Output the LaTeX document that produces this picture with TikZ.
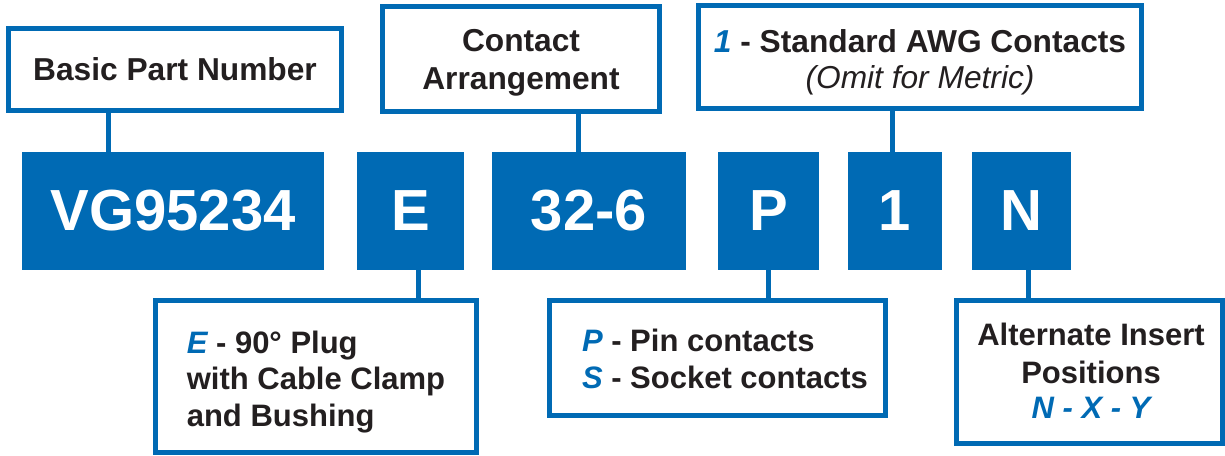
\documentclass[tikz,border=0pt]{standalone}
\usepackage{fontspec}
\setmainfont{Liberation Sans}
\definecolor{cblue}{RGB}{0,106,180}
\definecolor{ctext}{RGB}{35,31,32}
\begin{document}
\begin{tikzpicture}[x=1pt,y=-1pt,
  outlinebox/.style={draw=cblue, line width=5pt, fill=white, inner sep=0pt},
  bluebox/.style={fill=cblue, inner sep=0pt, minimum height=118pt, text=white,
    font=\fontsize{58}{60}\selectfont\bfseries},
  txt/.style={inner sep=0pt, text=ctext, font=\fontsize{31.7}{38}\selectfont\bfseries},
  hl/.style={text=cblue},
  link/.style={draw=cblue, line width=5pt}]
\useasboundingbox (0,0) rectangle (1225,455);

% top boxes
\node[outlinebox, minimum width=333pt, minimum height=82pt] (basic) at (175,69.5) {};
\node[txt] (basictext) at (175,69.5) {Basic Part Number};
\node[outlinebox, minimum width=277pt, minimum height=105pt] (contact) at (521,59) {};
\node[txt, align=center] (contacttext) at (521,63) {Contact\\Arrangement};
\node[outlinebox, minimum width=443pt, minimum height=103pt] (awg) at (920,57) {};
\node[txt, align=center, font=\fontsize{31.7}{36}\selectfont\bfseries] (awgtext) at (920,62)
  {{\color{cblue}\itshape 1} - Standard AWG Contacts\\{\mdseries\itshape (Omit for Metric)}};

% blue code boxes
\node[bluebox, minimum width=302pt] (vg) at (173,211) {VG95234};
\node[bluebox, minimum width=107pt] (e) at (410.5,211) {E};
\node[bluebox, minimum width=194pt] (arr) at (589,211) {32-6};
\node[bluebox, minimum width=101pt] (p) at (768.5,211) {P};
\node[bluebox, minimum width=94pt] (one) at (895,211) {1};
\node[bluebox, minimum width=99pt] (n) at (1021.5,211) {N};

% bottom boxes
\node[outlinebox, minimum width=321pt, minimum height=152pt] (ebox) at (316,376.5) {};
\node[txt, align=left, font=\fontsize{31}{36.7}\selectfont\bfseries] (etext) at (316,382)
  {{\color{cblue}\itshape E} - 90° Plug\\with Cable Clamp\\and Bushing};
\node[outlinebox, minimum width=336pt, minimum height=115pt] (pbox) at (717.5,358) {};
\node[txt, align=left, font=\fontsize{31}{36.5}\selectfont\bfseries] (ptext) at (725,359)
  {{\color{cblue}\itshape P} - Pin contacts\\{\color{cblue}\itshape S} - Socket contacts};
\node[outlinebox, minimum width=266pt, minimum height=143pt] (nbox) at (1089.5,372) {};
\node[txt, align=center, font=\fontsize{31}{38}\selectfont\bfseries] (ntext) at (1091,371)
  {Alternate Insert\\Positions\\[-3pt]{\color{cblue}\itshape N - X - Y}};

% connectors
\coordinate (x1) at (108.5,0);
\coordinate (x2) at (578,0);
\coordinate (x3) at (892,0);
\coordinate (x4) at (418,0);
\coordinate (x5) at (768,0);
\coordinate (x6) at (1028,0);
\draw[link] (basic.south -| x1) -- (vg.north -| x1);
\draw[link] (contact.south -| x2) -- (arr.north -| x2);
\draw[link] (awg.south -| x3) -- (one.north -| x3);
\draw[link] (e.south -| x4) -- (ebox.north -| x4);
\draw[link] (p.south -| x5) -- (pbox.north -| x5);
\draw[link] (n.south -| x6) -- (nbox.north -| x6);
\end{tikzpicture}
\end{document}
